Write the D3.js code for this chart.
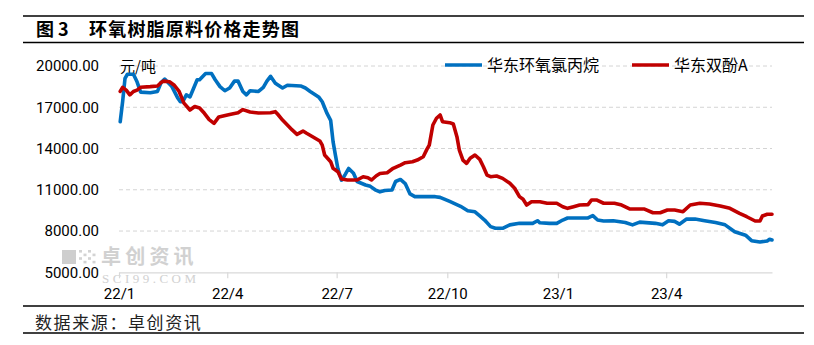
<!DOCTYPE html>
<html>
<head>
<meta charset="utf-8">
<script src="https://cdn.jsdelivr.net/npm/d3@7/dist/d3.min.js"></script>
<style>
  html, body { margin: 0; padding: 0; background: #fff; }
  svg { display: block; }
</style>
</head>
<body>
<svg id="chart" width="814" height="345"></svg>
<script>
// ---- Data: East China epichlorohydrin (ECH) and bisphenol A (BPA) prices, yuan/ton ----
const echDates = [
  "2022-01-02","2022-01-04","2022-01-06","2022-01-08","2022-01-13","2022-01-16","2022-01-19","2022-01-27",
  "2022-02-02","2022-02-05","2022-02-08","2022-02-14","2022-02-19","2022-02-21","2022-02-23","2022-02-26",
  "2022-03-01","2022-03-07","2022-03-09","2022-03-14","2022-03-19","2022-03-22","2022-03-26","2022-03-30",
  "2022-04-03","2022-04-07","2022-04-10","2022-04-14","2022-04-17","2022-04-20","2022-04-27","2022-05-01",
  "2022-05-04","2022-05-07","2022-05-11","2022-05-17","2022-05-21","2022-06-01","2022-06-05","2022-06-09",
  "2022-06-16","2022-06-19","2022-06-23","2022-06-26","2022-06-28","2022-06-30","2022-07-02","2022-07-05",
  "2022-07-08","2022-07-11","2022-07-15","2022-07-18","2022-07-25","2022-07-29","2022-08-02","2022-08-06",
  "2022-08-10","2022-08-16","2022-08-19","2022-08-23","2022-08-27","2022-08-31","2022-09-04","2022-09-21",
  "2022-09-25","2022-10-03","2022-10-12","2022-10-18","2022-10-24","2022-10-28","2022-11-01","2022-11-06",
  "2022-11-10","2022-11-16","2022-11-22","2022-11-30","2022-12-11","2022-12-15","2022-12-17","2022-12-25",
  "2022-12-31","2023-01-05","2023-01-09","2023-01-26","2023-01-30","2023-02-03","2023-02-08","2023-02-16",
  "2023-02-26","2023-03-04","2023-03-10","2023-03-23","2023-03-29","2023-04-03","2023-04-08","2023-04-12",
  "2023-04-18","2023-04-25","2023-05-03","2023-05-12","2023-05-20","2023-05-28","2023-06-06","2023-06-11",
  "2023-06-18","2023-06-24","2023-06-26","2023-06-28"
];
const echValues = [
  15950,17400,19100,19400,19400,18850,18100,18050,
  18150,18800,19050,18500,17650,17400,17400,17900,
  17750,19000,19000,19450,19450,19000,18500,18200,
  18400,18900,18900,18150,17900,18200,18150,18450,
  18900,19250,18750,18400,18600,18550,18400,18150,
  17750,17400,16550,16050,14500,13500,12550,11700,
  12100,12550,12200,11600,11350,11250,11000,10850,
  10950,10980,11600,11750,11450,10700,10500,10500,
  10450,10150,9800,9480,9400,9100,8800,8320,
  8200,8200,8450,8560,8560,8750,8600,8560,
  8560,8800,8950,8950,9120,8800,8730,8750,
  8620,8450,8650,8560,8450,8750,8700,8500,
  8870,8870,8750,8620,8450,7950,7700,7300,
  7200,7280,7400,7350
];

const bpaDates = [
  "2022-01-02","2022-01-04","2022-01-07","2022-01-10","2022-01-13","2022-01-16","2022-01-19","2022-01-27",
  "2022-02-02","2022-02-05","2022-02-07","2022-02-12","2022-02-16","2022-02-20","2022-02-24","2022-03-01",
  "2022-03-05","2022-03-09","2022-03-13","2022-03-17","2022-03-21","2022-03-25","2022-04-03","2022-04-10",
  "2022-04-14","2022-04-20","2022-04-27","2022-05-07","2022-05-11","2022-05-13","2022-05-17","2022-05-21",
  "2022-05-25","2022-05-29","2022-06-03","2022-06-06","2022-06-11","2022-06-17","2022-06-19","2022-06-21",
  "2022-06-26","2022-06-28","2022-07-02","2022-07-05","2022-07-10","2022-07-18","2022-07-23","2022-07-27",
  "2022-07-30","2022-08-03","2022-08-06","2022-08-12","2022-08-17","2022-08-23","2022-08-27","2022-09-02",
  "2022-09-06","2022-09-11","2022-09-14","2022-09-16","2022-09-19","2022-09-22","2022-09-25","2022-09-27",
  "2022-10-03","2022-10-06","2022-10-09","2022-10-11","2022-10-14","2022-10-17","2022-10-20","2022-10-24",
  "2022-10-28","2022-10-31","2022-11-03","2022-11-06","2022-11-11","2022-11-16","2022-11-22","2022-11-26",
  "2022-11-30","2022-12-03","2022-12-06","2022-12-10","2022-12-17","2022-12-23","2022-12-31","2023-01-05",
  "2023-01-09","2023-01-14","2023-01-19","2023-01-26","2023-01-29","2023-02-02","2023-02-08","2023-02-17",
  "2023-02-23","2023-03-02","2023-03-14","2023-03-21","2023-03-27","2023-04-02","2023-04-08","2023-04-15",
  "2023-04-21","2023-04-29","2023-05-07","2023-05-16","2023-05-24","2023-06-01","2023-06-07","2023-06-14",
  "2023-06-18","2023-06-20","2023-06-24","2023-06-28"
];
const bpaValues = [
  18150,18450,18250,17900,18150,18250,18450,18500,
  18550,18800,18900,18850,18600,18150,17300,16800,
  17050,16950,16560,16100,15830,16300,16480,16600,
  16830,16650,16580,16600,16680,16490,16070,15710,
  15350,15030,15270,15110,14860,14550,14250,13530,
  13040,12560,12310,11780,11710,11710,11950,11880,
  11710,12020,12180,12240,12560,12800,12970,13040,
  13160,13400,13940,14250,15710,16200,16440,15950,
  15880,15780,14860,13890,13160,12920,13290,13530,
  13210,12680,12070,11950,12000,11830,11470,11110,
  10500,10310,9890,10130,10130,10020,10020,9770,
  9650,9770,9890,9920,10260,10260,10020,10020,
  9890,9600,9600,9330,9330,9530,9530,9410,
  9890,10020,9970,9820,9650,9290,9040,8730,
  8730,9090,9220,9220
];

const seriesNames = ["华东环氧氯丙烷", "华东双酚A"];
const seriesColors = ["#0070C0", "#C00000"];
const yTicks = [5000, 8000, 11000, 14000, 17000, 20000];
const xTickDates = ["2022-01-01","2022-04-01","2022-07-01","2022-10-01","2023-01-01","2023-04-01"];
const xTickLabels = ["22/1","22/4","22/7","22/10","23/1","23/4"];
const titleText = "图 3";
const titleMain = "环氧树脂原料价格走势图";
const unitText = "元/吨";
const sourceText = "数据来源：卓创资讯";

(function draw() {
  const parse = d3.timeParse("%Y-%m-%d");
  const svg = d3.select("#chart");
  const plotLeft = 119, plotRight = 772, plotTop = 66, plotBottom = 272.3;

  const x = d3.scaleTime()
    .domain([parse("2022-01-01"), parse("2023-06-28")])
    .range([plotLeft, plotRight]);
  const y = d3.scaleLinear().domain([5000, 20000]).range([plotBottom, plotTop]);

  const uiFont = "Roboto, 'Noto Sans CJK SC', sans-serif";
  const cjkFont = "'Noto Sans CJK SC', sans-serif";

  // header / footer rules
  [16, 42.5, 306, 333].forEach(yy => {
    svg.append("line").attr("x1", 23).attr("x2", 804).attr("y1", yy).attr("y2", yy)
      .attr("stroke", "#000").attr("stroke-width", 1.4);
  });

  svg.append("text").attr("x", 36).attr("y", 36)
    .attr("font-family", cjkFont).attr("font-weight", 700).attr("font-size", 18)
    .attr("fill", "#000").text(titleText);
  svg.append("text").attr("x", 89).attr("y", 36)
    .attr("font-family", cjkFont).attr("font-weight", 700).attr("font-size", 18)
    .attr("letter-spacing", 1.2).attr("fill", "#000").text(titleMain);

  svg.append("text").attr("x", 35).attr("y", 329)
    .attr("font-family", cjkFont).attr("font-size", 17).attr("letter-spacing", 1.6)
    .attr("fill", "#222").text(sourceText);

  // watermark
  const wm = svg.append("g").attr("opacity", 0.9);
  wm.append("rect").attr("x", 62).attr("y", 250).attr("width", 14).attr("height", 14).attr("fill", "#c9c9c9");
  for (let i = 0; i < 4; i++) for (let j = 0; j < 4; j++) {
    if ((i + j) % 2 === 0) wm.append("rect").attr("x", 79 + i * 4.5).attr("y", 250 + j * 3.6)
      .attr("width", 3).attr("height", 2.6).attr("fill", "#cfcfcf");
  }
  wm.append("text").attr("x", 101).attr("y", 264)
    .attr("font-family", cjkFont).attr("font-weight", 700).attr("font-size", 20)
    .attr("letter-spacing", 4.2).attr("fill", "#cdcdcd").text("卓创资讯");
  wm.append("text").attr("x", 102).attr("y", 283)
    .attr("font-family", "'Liberation Serif', 'DejaVu Serif', serif").attr("font-size", 13)
    .attr("textLength", 94).attr("lengthAdjust", "spacing")
    .attr("fill", "#cdcdcd").text("SCI99.COM");

  // gridlines
  svg.append("g").selectAll("line").data(yTicks.filter(v => v !== 5000)).join("line")
    .attr("x1", plotLeft).attr("x2", plotRight)
    .attr("y1", d => y(d)).attr("y2", d => y(d))
    .attr("stroke", "#d4d4d4").attr("stroke-width", 1).attr("stroke-dasharray", "4,3");

  // y axis labels
  const yAxis = svg.append("g").attr("transform", `translate(${plotLeft},0)`)
    .call(d3.axisLeft(y).tickValues(yTicks).tickFormat(d3.format(".2f")).tickSize(0).tickPadding(20));
  yAxis.select(".domain").remove();
  yAxis.selectAll("text").attr("font-family", uiFont).attr("font-size", 15).attr("fill", "#000");

  // x axis
  const xAxis = svg.append("g").attr("transform", `translate(0,${plotBottom})`)
    .call(d3.axisBottom(x).tickValues(xTickDates.map(parse))
      .tickFormat((d, i) => xTickLabels[i]).tickSize(6).tickSizeOuter(0).tickPadding(10));
  xAxis.select(".domain").attr("stroke", "#d9d9d9").attr("stroke-width", 1.2);
  xAxis.selectAll(".tick line").attr("stroke", "#d9d9d9").attr("stroke-width", 1.2);
  xAxis.selectAll("text").attr("font-family", uiFont).attr("font-size", 15).attr("fill", "#000");

  // unit label
  svg.append("text").attr("x", 120).attr("y", 72)
    .attr("font-family", cjkFont).attr("font-size", 15).attr("fill", "#000").text(unitText);

  // price lines
  const line = d3.line().x(d => x(d[0])).y(d => y(d[1]));
  const series = [
    echDates.map((d, i) => [parse(d), echValues[i]]),
    bpaDates.map((d, i) => [parse(d), bpaValues[i]])
  ];
  series.forEach((s, i) => {
    svg.append("path").datum(s).attr("d", line)
      .attr("fill", "none").attr("stroke", seriesColors[i]).attr("stroke-width", 3.6)
      .attr("stroke-linejoin", "round").attr("stroke-linecap", "round");
  });

  // legend
  const legendX = [445, 632];
  seriesNames.forEach((name, i) => {
    const g = svg.append("g");
    g.append("line").attr("x1", legendX[i]).attr("x2", legendX[i] + 37).attr("y1", 65).attr("y2", 65)
      .attr("stroke", seriesColors[i]).attr("stroke-width", 3.6);
    g.append("text").attr("x", legendX[i] + 42).attr("y", 71)
      .attr("font-family", cjkFont).attr("font-size", 16).attr("fill", "#000").text(name);
  });
})();
</script>
</body>
</html>
